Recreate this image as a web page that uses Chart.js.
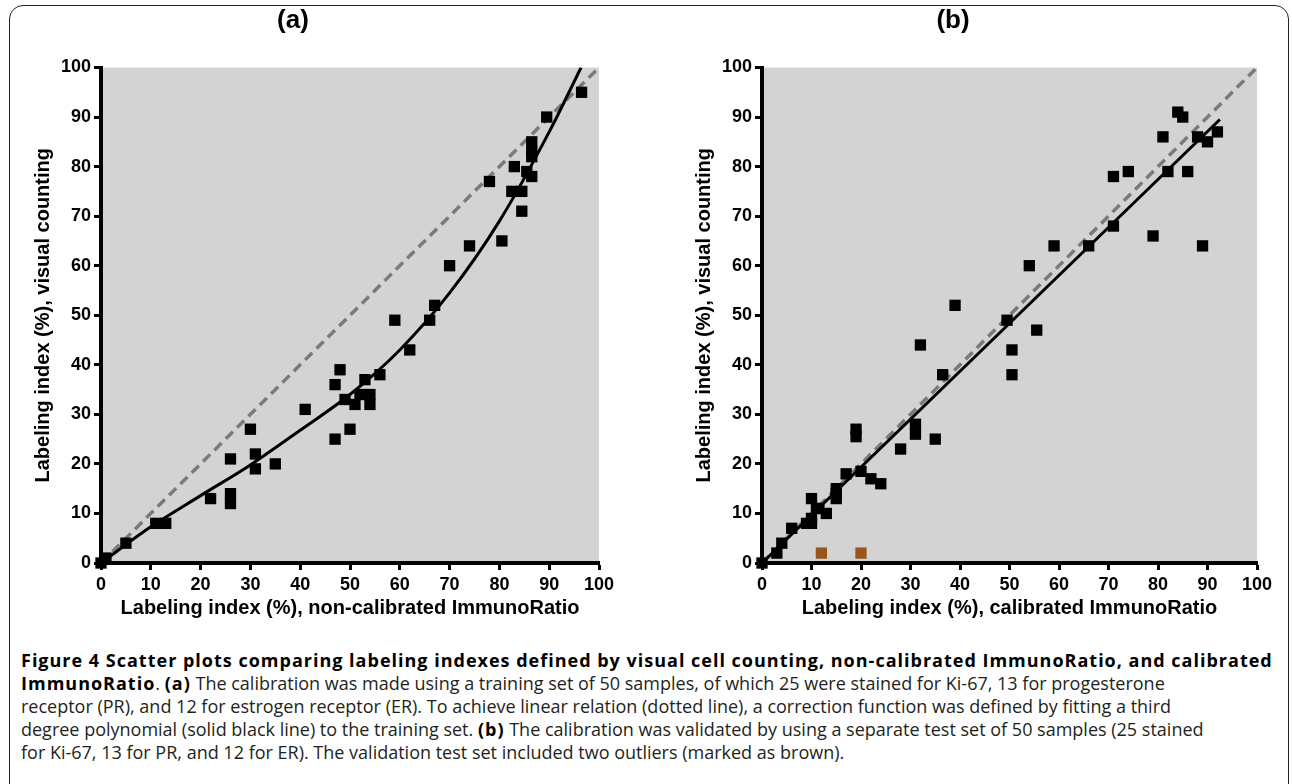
<!DOCTYPE html>
<html>
<head>
<meta charset="utf-8">
<script src="https://cdn.jsdelivr.net/npm/chart.js@4.4.1/dist/chart.umd.min.js"></script>
<style>
html,body{margin:0;padding:0;background:#fff;}
body{width:1292px;height:784px;position:relative;overflow:hidden;}
#frame{position:absolute;left:9px;top:5px;width:1280px;height:840px;border:1.5px solid #222;border-radius:14px;box-sizing:border-box;}
canvas{position:absolute;top:0;}
#ca{left:0;}
#cb{left:650px;}
.ptitle{position:absolute;top:4px;width:80px;margin-left:-40px;text-align:center;font:bold 26px "Liberation Sans",Arial,sans-serif;line-height:30px;color:#000;}
#caption{position:absolute;left:21px;top:649px;font-family:"Open Sans",sans-serif;font-size:18px;line-height:23px;color:#231f20;white-space:nowrap;}
#caption b{color:#000;letter-spacing:1px;}
</style>
</head>
<body>
<div id="frame"></div>
<canvas id="ca" width="646" height="640"></canvas>
<canvas id="cb" width="642" height="640"></canvas>
<div class="ptitle" style="left:293px">(a)</div>
<div class="ptitle" style="left:953px">(b)</div>
<div id="caption">
<b>Figure 4 Scatter plots comparing labeling indexes defined by visual cell counting, non-calibrated ImmunoRatio, and calibrated</b><br>
<b>ImmunoRatio</b>. <b>(a)</b> The calibration was made using a training set of 50 samples, of which 25 were stained for Ki-67, 13 for progesterone<br>
receptor (PR), and 12 for estrogen receptor (ER). To achieve linear relation (dotted line), a correction function was defined by fitting a third<br>
degree polynomial (solid black line) to the training set. <b>(b)</b> The calibration was validated by using a separate test set of 50 samples (25 stained<br>
for Ki-67, 13 for PR, and 12 for ER). The validation test set included two outliers (marked as brown).
</div>
<script>
// ---- Data ----
const tickValues = [0, 10, 20, 30, 40, 50, 60, 70, 80, 90, 100];
const titleA = "(a)";
const titleB = "(b)";
const xTitleA = "Labeling index (%), non-calibrated ImmunoRatio";
const xTitleB = "Labeling index (%), calibrated ImmunoRatio";
const yTitle = "Labeling index (%), visual counting";

// Panel (a): non-calibrated ImmunoRatio vs visual counting
const aX = [0, 1, 5, 11, 13, 22, 26, 26, 26, 30, 31, 31, 35, 41, 47, 47, 48, 49, 50, 51, 52, 53, 54, 54, 56, 59, 62, 66, 67, 70, 74, 78, 80.5, 82.5, 83, 84.5, 84.5, 85.5, 86.5, 86.5, 86.5, 86.5, 89.5, 96.5];
const aY = [0, 1, 4, 8, 8, 13, 14, 12, 21, 27, 22, 19, 20, 31, 36, 25, 39, 33, 27, 32, 34, 37, 34, 32, 38, 49, 43, 49, 52, 60, 64, 77, 65, 75, 80, 75, 71, 79, 78, 85, 83, 82, 90, 95];
// third degree polynomial fit
const aFitX = [0, 10, 20, 30, 40, 50, 60, 70, 80, 90, 96.4];
const aFitY = [0, 7.3, 13.6, 19.8, 26.8, 34, 43, 54.5, 69, 87, 100];

// Panel (b): calibrated ImmunoRatio vs visual counting
const bX = [0, 3, 4, 6, 9, 10, 10, 10, 11, 11.5, 13, 15, 15, 15, 17, 19, 19, 20, 22, 24, 28, 31, 31, 35, 32, 36.5, 39, 49.5, 50.5, 50.5, 55.5, 54, 59, 66, 71, 71, 74, 79, 81, 82, 84, 85, 86, 88, 89, 90, 92];
const bY = [0, 2, 4, 7, 8, 8, 9, 13, 11, 11, 10, 13, 15, 14, 18, 27, 25.5, 18.5, 17, 16, 23, 28, 26, 25, 44, 38, 52, 49, 43, 38, 47, 60, 64, 64, 68, 78, 79, 66, 86, 79, 91, 90, 79, 86, 64, 85, 87];
const bOutX = [12, 20];
const bOutY = [2, 2];
const bFitX = [0, 92.5];
const bFitY = [0, 89.5];

// identity (dotted) line
const idX = [0, 100];
const idY = [0, 100];

// ---- helpers ----
const zip = (xs, ys) => xs.map((x, i) => ({ x: x, y: ys[i] }));

const bgPlugin = {
  id: 'plotBg',
  beforeDraw(chart) {
    const a = chart.chartArea;
    const ctx = chart.ctx;
    ctx.save();
    ctx.fillStyle = '#d3d3d3';
    ctx.fillRect(a.left, a.top, a.right - a.left, a.bottom - a.top);
    ctx.restore();
  }
};

function makeChart(id, opts) {
  const tickFont = { family: '"Liberation Sans", Arial, sans-serif', size: 18, weight: 'bold' };
  const titleFont = { family: '"Liberation Sans", Arial, sans-serif', size: 20, weight: 'bold' };
  const datasets = [
    {
      label: 'samples',
      data: zip(opts.px, opts.py),
      pointStyle: 'rect',
      pointRadius: 8,
      pointBorderWidth: 0,
      backgroundColor: '#000',
      borderColor: '#000',
      showLine: false,
      clip: false
    }
  ];
  if (opts.ox) {
    datasets.push({
      label: 'outliers',
      data: zip(opts.ox, opts.oy),
      pointStyle: 'rect',
      pointRadius: 8,
      pointBorderWidth: 0,
      backgroundColor: '#98561c',
      borderColor: '#98561c',
      showLine: false,
      clip: false
    });
  }
  datasets.push({
    label: 'fit',
    data: zip(opts.fx, opts.fy),
    showLine: true,
    pointRadius: 0,
    borderColor: '#000',
    borderWidth: 3,
    cubicInterpolationMode: 'monotone',
    fill: false
  });
  datasets.push({
    label: 'identity',
    data: zip(idX, idY),
    showLine: true,
    pointRadius: 0,
    borderColor: '#7a7a7a',
    borderWidth: 3.5,
    borderDash: [10, 6],
    fill: false,
    clip: 4
  });

  const axisCommon = {
    type: 'linear',
    min: 0,
    max: 100,
    grid: { drawOnChartArea: false, drawTicks: true, tickLength: 7, tickWidth: 3, tickColor: '#000', color: '#000' },
    border: { display: true, color: '#000', width: 4 },
    ticks: { stepSize: 10, autoSkip: false, maxRotation: 0, color: '#000', font: tickFont }
  };

  return new Chart(document.getElementById(id), {
    type: 'scatter',
    data: { datasets: datasets },
    options: {
      responsive: false,
      animation: false,
      devicePixelRatio: 1,
      layout: { padding: { left: 0, top: 67.5, right: opts.padRight, bottom: 0 } },
      plugins: { legend: { display: false }, tooltip: { enabled: false }, title: { display: false } },
      scales: {
        x: Object.assign({}, axisCommon, {
          position: 'bottom',
          ticks: Object.assign({}, axisCommon.ticks, { padding: 4 }),
          afterBuildTicks(s) { s.ticks = tickValues.map(v => ({ value: v })); },
          title: { display: true, text: opts.xTitle, color: '#000', font: titleFont, padding: { top: 0, bottom: 20 } },
          afterFit(s) { s.height = 77; }
        }),
        y: Object.assign({}, axisCommon, {
          position: 'left',
          ticks: Object.assign({}, axisCommon.ticks, { padding: 3 }),
          afterBuildTicks(s) { s.ticks = tickValues.map(v => ({ value: v })); },
          title: { display: true, text: yTitle, color: '#000', font: titleFont, padding: { top: opts.yTitlePad, bottom: 0 } },
          afterFit(s) { s.width = opts.yWidth; }
        })
      }
    },
    plugins: [bgPlugin]
  });
}

makeChart('ca', { px: aX, py: aY, fx: aFitX, fy: aFitY, xTitle: xTitleA, yWidth: 101, yTitlePad: 31, padRight: 47 });
makeChart('cb', { px: bX, py: bY, ox: bOutX, oy: bOutY, fx: bFitX, fy: bFitY, xTitle: xTitleB, yWidth: 112, yTitlePad: 42, padRight: 35 });
</script>
</body>
</html>
